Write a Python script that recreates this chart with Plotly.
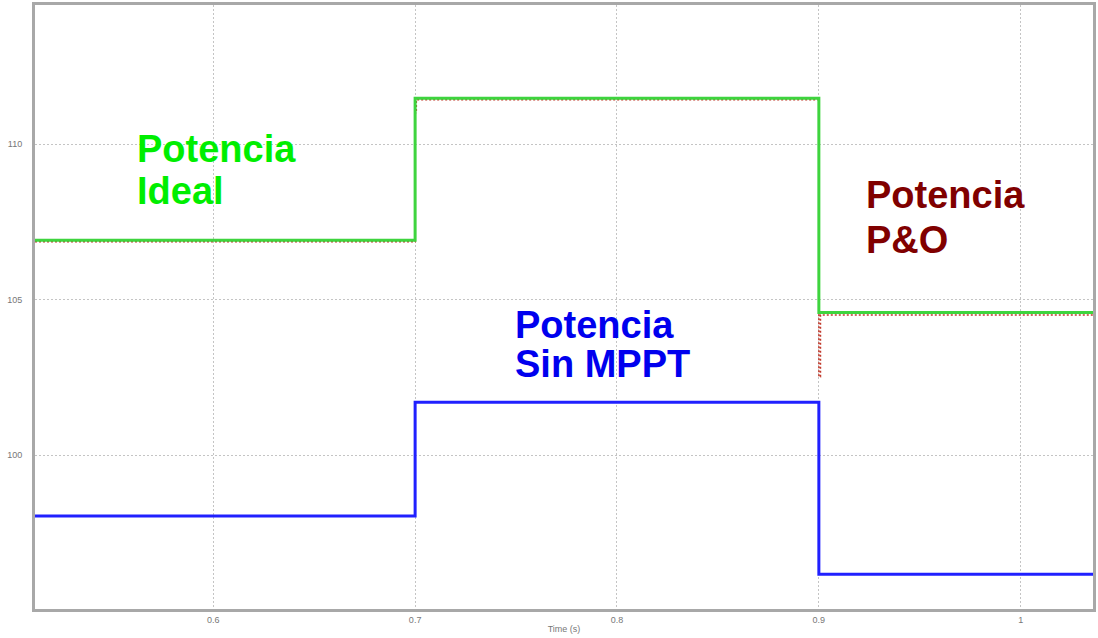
import plotly.graph_objects as go

# Switching instants (s) and plotted window
t_steps = [0.5117, 0.7, 0.9, 1.0358]
x_range = [0.5117, 1.0358]
y_range = [95.05, 114.47]

# Power levels (W) per irradiance interval
p_ideal = [106.91, 111.47, 104.58, 104.58]
p_sin_mppt = [98.04, 101.70, 96.17, 96.17]

# P&O tracker: follows the ideal level with short transients at each step
t_po = [0.5117, 0.7, 0.7006, 0.9, 0.9008, 1.0358]
p_po = [106.86, 111.0, 111.42, 102.52, 104.50, 104.50]

x_ticks = [0.6, 0.7, 0.8, 0.9, 1.0]
x_ticktext = ["0.6", "0.7", "0.8", "0.9", "1"]
y_ticks = [100, 105, 110]

W, H = 1098, 638
ML, MR, MT, MB = 35, 2, 5, 29
PW, PH = W - ML - MR, H - MT - MB

fig = go.Figure()

fig.add_trace(go.Scatter(
    x=t_po, y=p_po, mode="lines", line_shape="hv",
    line=dict(color="#c0392b", width=1.5, dash="2px,2px"), name="P&O",
))
fig.add_trace(go.Scatter(
    x=t_steps, y=p_ideal, mode="lines", line_shape="hv",
    line=dict(color="#3ed43e", width=3), name="Ideal",
))
fig.add_trace(go.Scatter(
    x=t_steps, y=p_sin_mppt, mode="lines", line_shape="hv",
    line=dict(color="#2020ff", width=3), name="Sin MPPT",
))


def px(xp):
    return (xp - ML) / PW


def py(yp):
    return (H - MB - yp) / PH


label_font = dict(family="Liberation Sans, Arial, sans-serif", size=38, weight="bold")
labels = [
    ("Potencia", 135, 149, "#00ee00"),
    ("Ideal", 135, 191, "#00ee00"),
    ("Potencia", 866, 195, "#800000"),
    ("P&O", 866, 240, "#800000"),
    ("Potencia", 514, 325, "#0000ee"),
    ("Sin MPPT", 514, 364, "#0000ee"),
]
for text, lx, ly, col in labels:
    fig.add_annotation(
        text=text, xref="paper", yref="paper", x=px(lx), y=py(ly),
        xanchor="left", yanchor="middle", showarrow=False,
        font=dict(color=col, **label_font),
    )

axis_common = dict(
    showline=True, linecolor="#a8a8a8", linewidth=3, mirror=True,
    showgrid=True, gridcolor="#c4c4c4", griddash="2px,2px", gridwidth=1,
    zeroline=False, ticks="",
    tickfont=dict(family="Liberation Sans, Arial, sans-serif", size=9, color="#777777"),
)

fig.update_xaxes(
    range=x_range, tickvals=x_ticks, ticktext=x_ticktext,
    title=dict(text="Time (s)", font=dict(family="Liberation Sans, Arial, sans-serif",
                                          size=9, color="#777777"), standoff=2),
    **axis_common,
)
fig.update_yaxes(range=y_range, tickvals=y_ticks, ticklabelstandoff=8, **axis_common)

fig.update_layout(
    width=W, height=H,
    margin=dict(l=ML, r=MR, t=MT, b=MB),
    paper_bgcolor="white", plot_bgcolor="white",
    showlegend=False,
)

fig.write_html("out.html")
